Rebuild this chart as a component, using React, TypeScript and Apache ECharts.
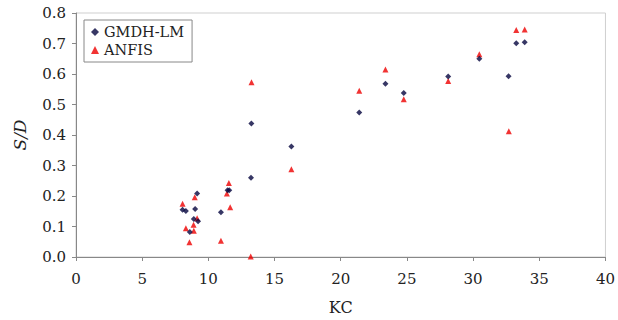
import React, { useEffect, useRef } from "react";
import * as echarts from "echarts";

const gmdhKC = [8.05, 8.3, 8.6, 8.9, 9.0, 9.15, 9.22, 10.95, 11.45, 11.58, 13.22, 13.25, 16.27, 21.4, 23.38, 24.76, 28.12, 30.47, 32.68, 33.26, 33.9];
const gmdhSD = [0.155, 0.151, 0.082, 0.125, 0.157, 0.208, 0.117, 0.147, 0.219, 0.219, 0.26, 0.438, 0.362, 0.474, 0.568, 0.538, 0.592, 0.65, 0.593, 0.701, 0.704];
const anfisKC = [8.05, 8.3, 8.57, 8.9, 8.88, 8.97, 9.15, 10.95, 11.4, 11.55, 11.65, 13.2, 13.26, 16.27, 21.4, 23.38, 24.76, 28.12, 30.47, 32.7, 33.26, 33.9];
const anfisSD = [0.175, 0.094, 0.048, 0.086, 0.106, 0.196, 0.127, 0.053, 0.208, 0.243, 0.163, 0.002, 0.573, 0.288, 0.545, 0.615, 0.517, 0.577, 0.665, 0.412, 0.744, 0.746];

const serif = "DejaVu Serif";

export default function App() {
  const ref = useRef<HTMLDivElement>(null);
  useEffect(() => {
    const chart = echarts.init(ref.current!, null, { renderer: "svg" });
    chart.setOption({
      animation: false,
      backgroundColor: "#fff",
      grid: { left: 76, right: 10, top: 13, bottom: 61, show: true, borderColor: "#cfcfcf", borderWidth: 1 },
      legend: {
        orient: "vertical",
        left: 84,
        top: 20,
        padding: [4, 8, 4, 7],
        itemWidth: 8,
        itemHeight: 8,
        itemGap: 2,
        borderColor: "#888",
        borderWidth: 1,
        textStyle: { fontFamily: serif, fontSize: 14.5, color: "#222", lineHeight: 16 },
        data: ["GMDH-LM", "ANFIS"],
      },
      xAxis: {
        type: "value",
        min: 0,
        max: 40,
        interval: 5,
        name: "KC",
        nameLocation: "middle",
        nameGap: 42,
        nameTextStyle: { fontFamily: serif, fontSize: 16, color: "#222" },
        axisLine: { lineStyle: { color: "#888" } },
        axisTick: { show: true, length: 4, lineStyle: { color: "#888" } },
        axisLabel: { fontFamily: serif, fontSize: 15, color: "#222", margin: 14 },
        splitLine: { show: false },
      },
      yAxis: {
        type: "value",
        min: 0,
        max: 0.8,
        interval: 0.1,
        name: "S/D",
        nameLocation: "middle",
        nameGap: 48,
        nameTextStyle: { fontFamily: serif, fontSize: 17, fontStyle: "italic", color: "#222" },
        axisLine: { show: true, lineStyle: { color: "#888" } },
        axisTick: { show: true, length: 4, lineStyle: { color: "#888" } },
        axisLabel: { fontFamily: serif, fontSize: 15, color: "#222", margin: 10, formatter: (v: number) => v.toFixed(1) },
        splitLine: { show: false },
      },
      series: [
        {
          name: "GMDH-LM",
          type: "scatter",
          symbol: "diamond",
          symbolSize: 6,
          itemStyle: { color: "#05053f" },
          data: gmdhKC.map((x, i) => [x, gmdhSD[i]]),
          z: 3,
        },
        {
          name: "ANFIS",
          type: "scatter",
          symbol: "triangle",
          symbolSize: 6,
          itemStyle: { color: "#ee0000" },
          data: anfisKC.map((x, i) => [x, anfisSD[i]]),
          z: 2,
        },
      ],
    });
    return () => chart.dispose();
  }, []);
  return <div ref={ref} style={{ width: 618, height: 320, position: "absolute", left: 0, top: 0 }} />;
}
